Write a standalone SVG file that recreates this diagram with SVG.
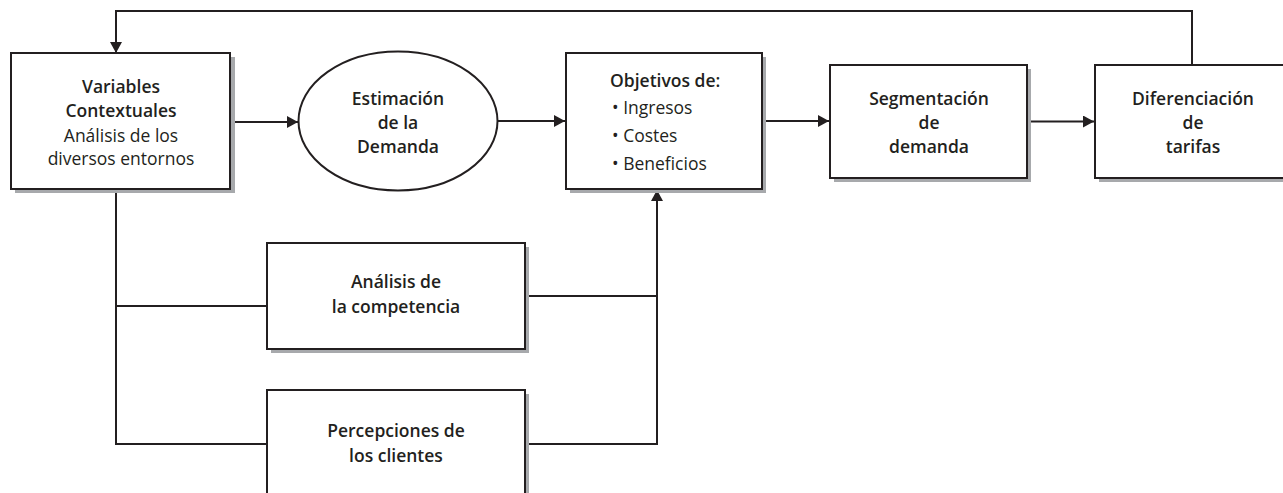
<svg xmlns="http://www.w3.org/2000/svg" width="1283" height="493" viewBox="0 0 1283 493">
<defs>
<marker id="arr" viewBox="0 0 11 12" markerWidth="11" markerHeight="12" refX="11" refY="6" orient="auto" markerUnits="userSpaceOnUse">
<path d="M0,0 L11,6 L0,12 z" fill="#231f20"/>
</marker>
<style>
.ln{fill:none;stroke:#231f20;stroke-width:2}
.box{fill:#fff;stroke:#231f20;stroke-width:2}
.sh{fill:#a7a9ac}
text{font-family:"Open Sans","Noto Sans","Liberation Sans",sans-serif;font-size:17.5px;fill:#231f20}
.b{font-weight:600}
.c{text-anchor:middle}
</style>
</defs>
<rect width="1283" height="493" fill="#fff"/>
<g id="connectors">
<polyline class="ln" points="1192,65 1192,11 116,11 116,53" marker-end="url(#arr)"/>
<line class="ln" x1="230" y1="122" x2="298" y2="122" marker-end="url(#arr)"/>
<line class="ln" x1="497" y1="121" x2="565" y2="121" marker-end="url(#arr)"/>
<line class="ln" x1="762" y1="121" x2="829" y2="121" marker-end="url(#arr)"/>
<line class="ln" x1="1027" y1="121.5" x2="1094" y2="121.5" marker-end="url(#arr)"/>
<polyline class="ln" points="116,189 116,444 267,444"/>
<line class="ln" x1="116" y1="306" x2="267" y2="306"/>
<line class="ln" x1="525" y1="296" x2="657" y2="296"/>
<polyline class="ln" points="525,444 657,444 657,190" marker-end="url(#arr)"/>
</g>
<g id="variables">
<rect class="sh" x="15" y="57" width="220" height="136"/>
<rect class="box" x="11" y="53" width="219" height="136"/>
<text class="b c" x="121" y="93">Variables</text>
<text class="b c" x="121" y="117">Contextuales</text>
<text class="c" x="121" y="141.5">Análisis de los</text>
<text class="c" x="121" y="165">diversos entornos</text>
</g>
<g id="estimacion">
<ellipse class="box" cx="398" cy="121" rx="99.5" ry="69.5"/>
<text class="b c" x="398" y="105">Estimación</text>
<text class="b c" x="398" y="129">de la</text>
<text class="b c" x="398" y="153">Demanda</text>
</g>
<g id="objetivos">
<rect class="sh" x="570" y="57" width="196" height="136"/>
<rect class="box" x="566" y="53" width="196" height="136"/>
<text class="b" x="610" y="87">Objetivos de:</text>
<text x="612" y="114">• Ingresos</text>
<text x="612" y="142">• Costes</text>
<text x="612" y="170">• Beneficios</text>
</g>
<g id="segmentacion">
<rect class="sh" x="834" y="69" width="197" height="113"/>
<rect class="box" x="830" y="65" width="197" height="113"/>
<text class="b c" x="929" y="105">Segmentación</text>
<text class="b c" x="929" y="129">de</text>
<text class="b c" x="929" y="153">demanda</text>
</g>
<g id="diferenciacion">
<rect class="sh" x="1099" y="69" width="195" height="113"/>
<rect class="box" x="1095" y="65" width="195" height="113"/>
<text class="b c" x="1193" y="105">Diferenciación</text>
<text class="b c" x="1193" y="129">de</text>
<text class="b c" x="1193" y="153">tarifas</text>
</g>
<g id="competencia">
<rect class="sh" x="271" y="247" width="258" height="106"/>
<rect class="box" x="267" y="243" width="258" height="106"/>
<text class="b c" x="396" y="288">Análisis de</text>
<text class="b c" x="396" y="313">la competencia</text>
</g>
<g id="percepciones">
<rect class="sh" x="271" y="394" width="258" height="106"/>
<rect class="box" x="267" y="390" width="258" height="106"/>
<text class="b c" x="396" y="437">Percepciones de</text>
<text class="b c" x="396" y="462">los clientes</text>
</g>
</svg>
